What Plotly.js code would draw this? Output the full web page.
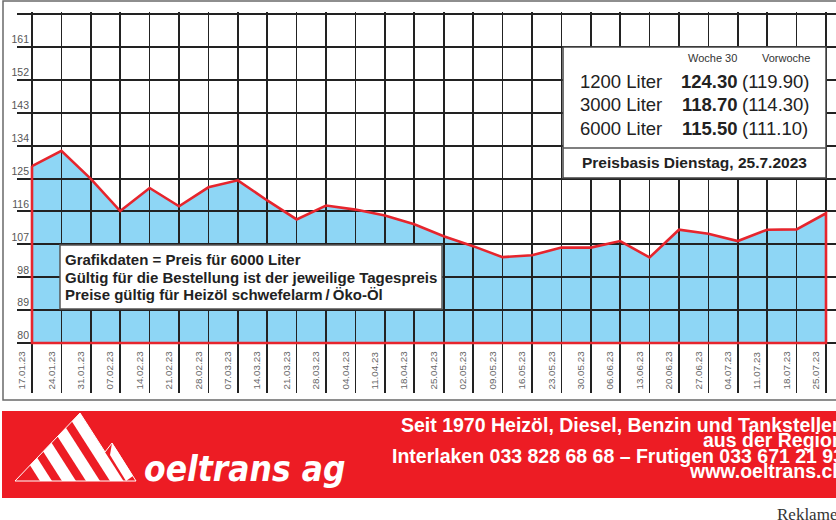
<!DOCTYPE html>
<html><head><meta charset="utf-8">
<script src="https://cdn.plot.ly/plotly-3.0.1.min.js"></script>
<style>html,body{margin:0;padding:0;background:#fff;overflow:hidden}#chart{width:836px;height:520px}</style>
</head><body><div id="chart"></div>
<script>
// ---- data ----
const dates = ['17.01.23','24.01.23','31.01.23','07.02.23','14.02.23','21.02.23','28.02.23','07.03.23','14.03.23','21.03.23','28.03.23','04.04.23','11.04.23','18.04.23','25.04.23','02.05.23','09.05.23','16.05.23','23.05.23','30.05.23','06.06.23','13.06.23','20.06.23','27.06.23','04.07.23','11.07.23','18.07.23','25.07.23'];
const prices6000 = [128.4,132.6,124.9,116.1,122.4,117.4,122.6,124.5,119.0,113.8,117.6,116.5,114.9,112.5,109.2,106.5,103.5,104.0,106.1,106.1,107.9,103.4,111.0,109.9,107.9,111.0,111.1,115.5];
const yTicks = [80,89,98,107,116,125,134,143,152,161,170];
const yTickLabels = ['80','89','98','107','116','125','134','143','152','161',''];
const volumes = ['1200 Liter','3000 Liter','6000 Liter'];
const week30 = ['124.30','118.70','115.50'];
const prevWeek = ['119.90','114.30','111.10'];
const infoNotes = ['Grafikdaten = Preis für 6000 Liter','Gültig für die Bestellung ist der jeweilige Tagespreis','Preise gültig für Heizöl schwefelarm\u2009/\u2009Öko-Öl'];
const bannerLines = ['Seit 1970 Heizöl, Diesel, Benzin und Tankstellen','aus der Region','Interlaken 033 828 68 68 – Frutigen 033 671 21 93','www.oeltrans.ch'];

// ---- geometry helpers (pixel -> paper) ----
const L = 17, T = 12, PW = 819, PH = 381;
const px = x => (x - L) / PW;
const py = y => (T + PH - y) / PH;
const pathOf = pts => 'M ' + pts.map(p => px(p[0]) + ' ' + py(p[1])).join(' L ') + ' Z';

const idx = dates.map((d, i) => i);
const base = yTicks[0];
const last = idx.length - 1;
const polyX = idx.concat([idx[last], idx[0], idx[0]]);
const polyY = prices6000.concat([base, base, prices6000[0]]);

const xRange = [-0.51, 27.34];
const yRange = [66.33, 170.55];

const sans = 'Liberation Sans, Arial, Helvetica, sans-serif';

const traces = [
  {x: polyX, y: polyY, xaxis: 'x', yaxis: 'y', mode: 'lines', fill: 'toself',
   fillcolor: '#8ed6f5', line: {width: 0}, hoverinfo: 'skip'},
  {x: polyX, y: polyY, xaxis: 'x2', yaxis: 'y2', mode: 'lines',
   line: {color: '#e6252d', width: 2.6}, hoverinfo: 'skip'}
];

const shapes = [];
const ann = [];
// outer frame
shapes.push({type: 'rect', xref: 'paper', yref: 'paper', x0: px(3), x1: px(850), y0: py(1), y1: py(400),
  line: {color: '#6a6a6a', width: 1.5}, fillcolor: 'rgba(0,0,0,0)', layer: 'above'});
// info box
shapes.push({type: 'rect', xref: 'paper', yref: 'paper', x0: px(563), x1: px(826), y0: py(47), y1: py(178),
  line: {color: '#444', width: 1.5}, fillcolor: '#fff', layer: 'above'});
shapes.push({type: 'line', xref: 'paper', yref: 'paper', x0: px(563), x1: px(826), y0: py(148), y1: py(148),
  line: {color: '#555', width: 1.3}, layer: 'above'});
// note box
shapes.push({type: 'rect', xref: 'paper', yref: 'paper', x0: px(60), x1: px(442), y0: py(245), y1: py(309),
  line: {color: '#555', width: 1.5}, fillcolor: '#fff', layer: 'above'});
// red banner
shapes.push({type: 'rect', xref: 'paper', yref: 'paper', x0: px(2), x1: px(860), y0: py(411), y1: py(498),
  line: {width: 0}, fillcolor: '#ed1c24', layer: 'above'});
// logo outline
shapes.push({type: 'path', xref: 'paper', yref: 'paper',
  path: pathOf([[15,481],[80,413],[105,452],[112,443],[136,481]]),
  line: {color: '#fff', width: 1}, fillcolor: 'rgba(0,0,0,0)', layer: 'above'});
// logo stripes
const stripeBases = [[40,52],[62,76],[86,100],[110,123.5]];
stripeBases.forEach(([a, b]) => {
  const ta = (a - 15) / 1.596, tb = (b - 15) / 1.596;
  shapes.push({type: 'path', xref: 'paper', yref: 'paper',
    path: pathOf([[a,481],[b,481],[b - 0.64*tb, 481 - tb],[a - 0.64*ta, 481 - ta]]),
    line: {width: 0}, fillcolor: '#fff', layer: 'above'});
});
shapes.push({type: 'path', xref: 'paper', yref: 'paper',
  path: pathOf([[112,443],[118,452],[133,476],[126,481],[110,455]]),
  line: {width: 0}, fillcolor: '#fff', layer: 'above'});

// info box texts
ann.push({text: 'Woche 30', x: px(739), y: py(58), xanchor: 'right', yanchor: 'middle', font: {family: sans, size: 11, color: '#333'}});
ann.push({text: 'Vorwoche', x: px(812), y: py(58), xanchor: 'right', yanchor: 'middle', font: {family: sans, size: 11, color: '#333'}});
const rowY = [81, 104.5, 128];
volumes.forEach((v, i) => {
  ann.push({text: v, x: px(578), y: py(rowY[i]), xanchor: 'left', yanchor: 'middle', font: {family: sans, size: 18.5, color: '#222'}});
  ann.push({text: week30[i], x: px(740), y: py(rowY[i]), xanchor: 'right', yanchor: 'middle', font: {family: sans, size: 18.5, color: '#222', weight: 'bold'}});
  ann.push({text: '(' + prevWeek[i] + ')', x: px(740), y: py(rowY[i]), xanchor: 'left', yanchor: 'middle', font: {family: sans, size: 18.5, color: '#222'}});
});
ann.push({text: 'Preisbasis Dienstag, 25.7.2023', x: px(694), y: py(162), xanchor: 'center', yanchor: 'middle', font: {family: sans, size: 15.5, color: '#222', weight: 'bold'}});
// note texts
const noteY = [259, 277, 294];
infoNotes.forEach((t, i) => {
  ann.push({text: t, x: px(63), y: py(noteY[i]), xanchor: 'left', yanchor: 'middle', font: {family: sans, size: 15, color: '#222', weight: 'bold'}});
});
// banner
const bannerY = [425, 440, 456, 471];
bannerLines.forEach((t, i) => {
  ann.push({text: t, x: px(846), y: py(bannerY[i]), xanchor: 'right', yanchor: 'middle', font: {family: sans, size: 19.5, color: '#fff', weight: 'bold'}});
});
ann.push({text: 'oeltrans ag', x: px(142), y: py(469), xanchor: 'left', yanchor: 'middle',
  font: {family: 'DejaVu Sans Condensed, DejaVu Sans, sans-serif', size: 35, color: '#fff', weight: 'bold', style: 'italic'}});
ann.push({text: 'Reklame', x: px(775), y: py(514), xanchor: 'left', yanchor: 'middle', font: {family: 'Liberation Serif, serif', size: 17, color: '#333'}});
ann.forEach(a => { a.xref = 'paper'; a.yref = 'paper'; a.showarrow = false; });

const hidden = {visible: false, fixedrange: true};
const layout = {
  width: 836, height: 520,
  margin: {l: L, r: 836 - L - PW, t: T, b: 520 - T - PH, pad: 0},
  paper_bgcolor: '#fff', plot_bgcolor: 'rgba(0,0,0,0)',
  showlegend: false,
  xaxis: Object.assign({domain: [0, 1], range: xRange, anchor: 'y'}, hidden),
  yaxis: Object.assign({domain: [0, 1], range: yRange, anchor: 'x'}, hidden),
  xaxis2: {domain: [0, 1], range: xRange, anchor: 'y2', fixedrange: true,
    tickmode: 'array', tickvals: idx, ticktext: dates, tickangle: -90,
    ticklabelposition: 'inside', ticklabelshift: -10, ticklabelstandoff: -3,
    ticklabeloverflow: 'allow', ticks: '',
    tickfont: {family: sans, size: 9.8, color: '#666'},
    showgrid: true, gridcolor: '#222', gridwidth: 1.6, zeroline: false, showline: false},
  yaxis2: {domain: [0, 1], range: yRange, anchor: 'x2', fixedrange: true,
    tickmode: 'array', tickvals: yTicks, ticktext: yTickLabels,
    ticklabelposition: 'outside top', ticklabelstandoff: -13, ticks: '',
    tickfont: {family: sans, size: 10.5, color: '#555'},
    showgrid: true, gridcolor: '#222', gridwidth: 2, zeroline: false, showline: false},
  shapes: shapes,
  annotations: ann
};
Plotly.newPlot('chart', traces, layout, {staticPlot: true, displayModeBar: false});
</script>
</body></html>
